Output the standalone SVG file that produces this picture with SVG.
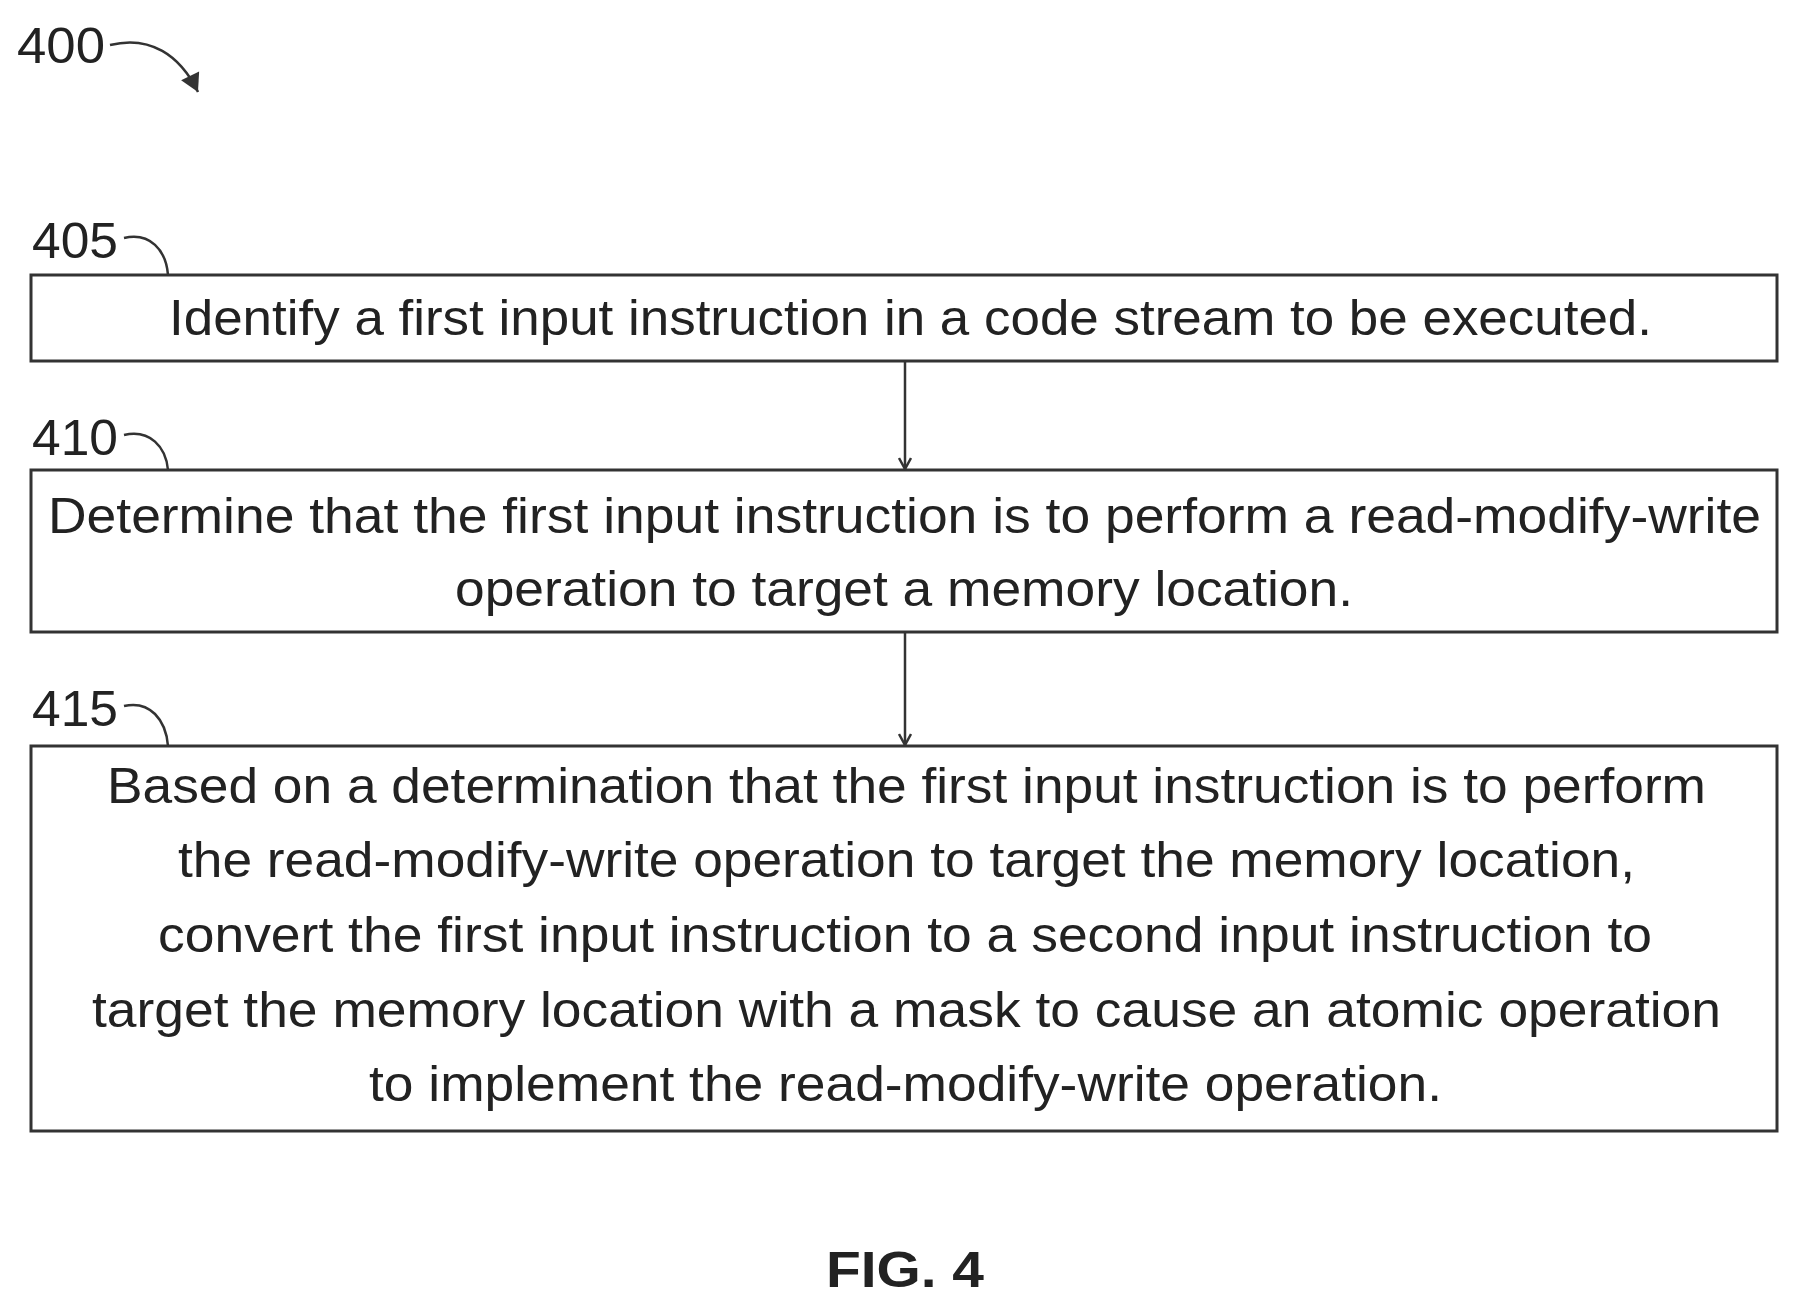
<svg xmlns="http://www.w3.org/2000/svg" width="1799" height="1312" viewBox="0 0 1799 1312">
<style>
.t{font-family:"Liberation Sans",Arial,sans-serif;font-size:50px;fill:#222}
.b{fill:none;stroke:#333;stroke-width:3}
.c{fill:none;stroke:#333;stroke-width:2.5}
</style>
<defs><marker id="a" markerWidth="14" markerHeight="14" refX="12" refY="7" orient="auto" markerUnits="userSpaceOnUse"><path d="M1,1 L12,7 L1,13" fill="none" stroke="#333" stroke-width="2.5"/></marker>
<marker id="f" markerWidth="24" markerHeight="24" refX="20" refY="12" orient="auto" markerUnits="userSpaceOnUse"><path d="M2,2 L20,12 L2,22 Z" fill="#333"/></marker></defs>
<rect width="1799" height="1312" fill="#fff"/>
<g id="label400"><text class="t" x="17" y="63" textLength="88" lengthAdjust="spacingAndGlyphs">400</text><path class="c" d="M110,45 C150,35 180,55 198,92" marker-end="url(#f)"/></g>
<g id="n405"><text class="t" x="32" y="258" textLength="86" lengthAdjust="spacingAndGlyphs">405</text><path class="c" d="M124,238 C150,232 166,250 168,275"/>
<rect class="b" x="31" y="275" width="1746" height="86"/>
<text class="t" x="169" y="335" textLength="1483" lengthAdjust="spacingAndGlyphs">Identify a first input instruction in a code stream to be executed.</text></g>
<g id="n410"><text class="t" x="32" y="455" textLength="86" lengthAdjust="spacingAndGlyphs">410</text><path class="c" d="M124,435 C150,429 166,447 168,470"/>
<rect class="b" x="31" y="470" width="1746" height="162"/>
<text class="t" x="48" y="533" textLength="1713" lengthAdjust="spacingAndGlyphs">Determine that the first input instruction is to perform a read-modify-write</text>
<text class="t" x="455" y="606" textLength="898" lengthAdjust="spacingAndGlyphs">operation to target a memory location.</text></g>
<g id="n415"><text class="t" x="32" y="726" textLength="86" lengthAdjust="spacingAndGlyphs">415</text><path class="c" d="M124,706 C150,700 166,720 168,746"/>
<rect class="b" x="31" y="746" width="1746" height="385"/>
<text class="t" x="107" y="803" textLength="1599" lengthAdjust="spacingAndGlyphs">Based on a determination that the first input instruction is to perform</text>
<text class="t" x="178" y="877" textLength="1457" lengthAdjust="spacingAndGlyphs">the read-modify-write operation to target the memory location,</text>
<text class="t" x="158" y="952" textLength="1494" lengthAdjust="spacingAndGlyphs">convert the first input instruction to a second input instruction to</text>
<text class="t" x="92" y="1027" textLength="1629" lengthAdjust="spacingAndGlyphs">target the memory location with a mask to cause an atomic operation</text>
<text class="t" x="369" y="1101" textLength="1073" lengthAdjust="spacingAndGlyphs">to implement the read-modify-write operation.</text></g>
<g id="connectors"><line class="c" x1="905" y1="361" x2="905" y2="469" marker-end="url(#a)"/><line class="c" x1="905" y1="632" x2="905" y2="745" marker-end="url(#a)"/></g>
<text class="t" x="905" y="1287" text-anchor="middle" font-weight="bold" font-size="56" textLength="158" lengthAdjust="spacingAndGlyphs">FIG. 4</text>
</svg>
